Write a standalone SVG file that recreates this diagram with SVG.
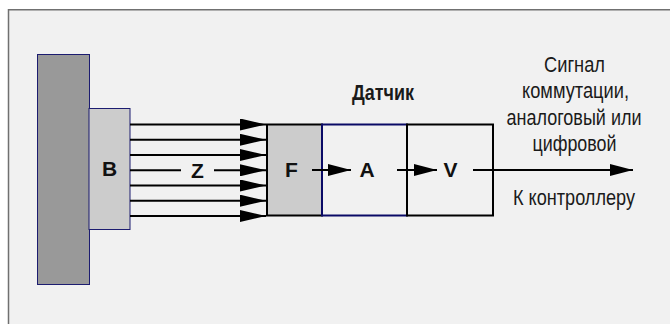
<svg xmlns="http://www.w3.org/2000/svg" width="670" height="324" viewBox="0 0 670 324">
  <style>
    .lbl { font-family: "Liberation Sans", Arial, sans-serif; font-weight: bold; font-size: 21px; fill: #111; text-anchor: middle; }
    .cap { font-family: "Liberation Sans", Arial, sans-serif; font-size: 21.5px; fill: #1a1a1a; text-anchor: middle; }
    .ray { stroke: #000; stroke-width: 2; fill: none; }
    .box { stroke: #000; stroke-width: 2; }
    .thin { stroke: #1c1c70; stroke-width: 1; }
  </style>
  <defs>
    <marker id="headL" markerUnits="userSpaceOnUse" markerWidth="26" markerHeight="12" refX="26" refY="6" orient="auto">
      <path d="M0,0 L26,6 L0,12 Z" fill="#000"/>
    </marker>
    <marker id="headS" markerUnits="userSpaceOnUse" markerWidth="23" markerHeight="12" refX="23" refY="6" orient="auto">
      <path d="M0,0 L23,6 L0,12 Z" fill="#000"/>
    </marker>
  </defs>

  <!-- panel background -->
  <rect x="0" y="0" width="670" height="324" fill="#ffffff"/>
  <rect x="8.5" y="9.75" width="700" height="400" fill="#f1f1f1" stroke="#707070" stroke-width="1.5"/>

  <!-- target surface -->
  <g id="wall">
    <rect class="thin" x="37.5" y="54.5" width="52" height="230" fill="#999999"/>
  </g>

  <g id="node-B">
    <rect class="thin" x="89" y="108.5" width="41" height="121" fill="#cccccc"/>
    <text class="lbl" x="109.5" y="176">B</text>
  </g>

  <g id="node-Z">
    <text class="lbl" x="197.5" y="178">Z</text>
  </g>

  <g id="node-F">
    <rect class="box" x="267" y="124.5" width="55" height="91" fill="#cccccc"/>
    <text class="lbl" x="291.5" y="177">F</text>
  </g>

  <g id="node-A">
    <rect x="322" y="124.5" width="85" height="91" fill="#f1f1f1" stroke="#0a0a66" stroke-width="2"/>
    <text class="lbl" x="367" y="177">A</text>
  </g>

  <g id="node-V">
    <rect class="box" x="407" y="124.5" width="86" height="91" fill="none"/>
    <text class="lbl" x="450.5" y="177">V</text>
  </g>

  <g id="sensor-title">
    <text class="cap" x="383" y="100" font-weight="bold" textLength="62" lengthAdjust="spacingAndGlyphs">Датчик</text>
  </g>

  <g id="output-labels">
    <text class="cap" x="574.5" y="71.5" textLength="61" lengthAdjust="spacingAndGlyphs">Сигнал</text>
    <text class="cap" x="575.5" y="98" textLength="107" lengthAdjust="spacingAndGlyphs">коммутации,</text>
    <text class="cap" x="574" y="124.5" textLength="135" lengthAdjust="spacingAndGlyphs">аналоговый или</text>
    <text class="cap" x="574.5" y="151" textLength="84" lengthAdjust="spacingAndGlyphs">цифровой</text>
    <text class="cap" x="574" y="205" textLength="122" lengthAdjust="spacingAndGlyphs">К контроллеру</text>
  </g>

  <g id="connectors">
    <line class="ray" x1="130" y1="124.5" x2="266" y2="124.5" marker-end="url(#headL)"/>
    <line class="ray" x1="130" y1="139.8" x2="266" y2="139.8" marker-end="url(#headL)"/>
    <line class="ray" x1="130" y1="155" x2="266" y2="155" marker-end="url(#headL)"/>
    <line class="ray" x1="130" y1="170.3" x2="181" y2="170.3"/>
    <line class="ray" x1="214" y1="170.3" x2="266" y2="170.3" marker-end="url(#headL)"/>
    <line class="ray" x1="130" y1="185.5" x2="266" y2="185.5" marker-end="url(#headL)"/>
    <line class="ray" x1="130" y1="200.7" x2="266" y2="200.7" marker-end="url(#headL)"/>
    <line class="ray" x1="130" y1="216" x2="266" y2="216" marker-end="url(#headL)"/>

    <line class="ray" x1="312" y1="170" x2="351" y2="170" marker-end="url(#headS)"/>
    <line class="ray" x1="397" y1="170" x2="437" y2="170" marker-end="url(#headS)"/>
    <line class="ray" x1="473" y1="170" x2="633" y2="170" marker-end="url(#headS)"/>
  </g>
</svg>
